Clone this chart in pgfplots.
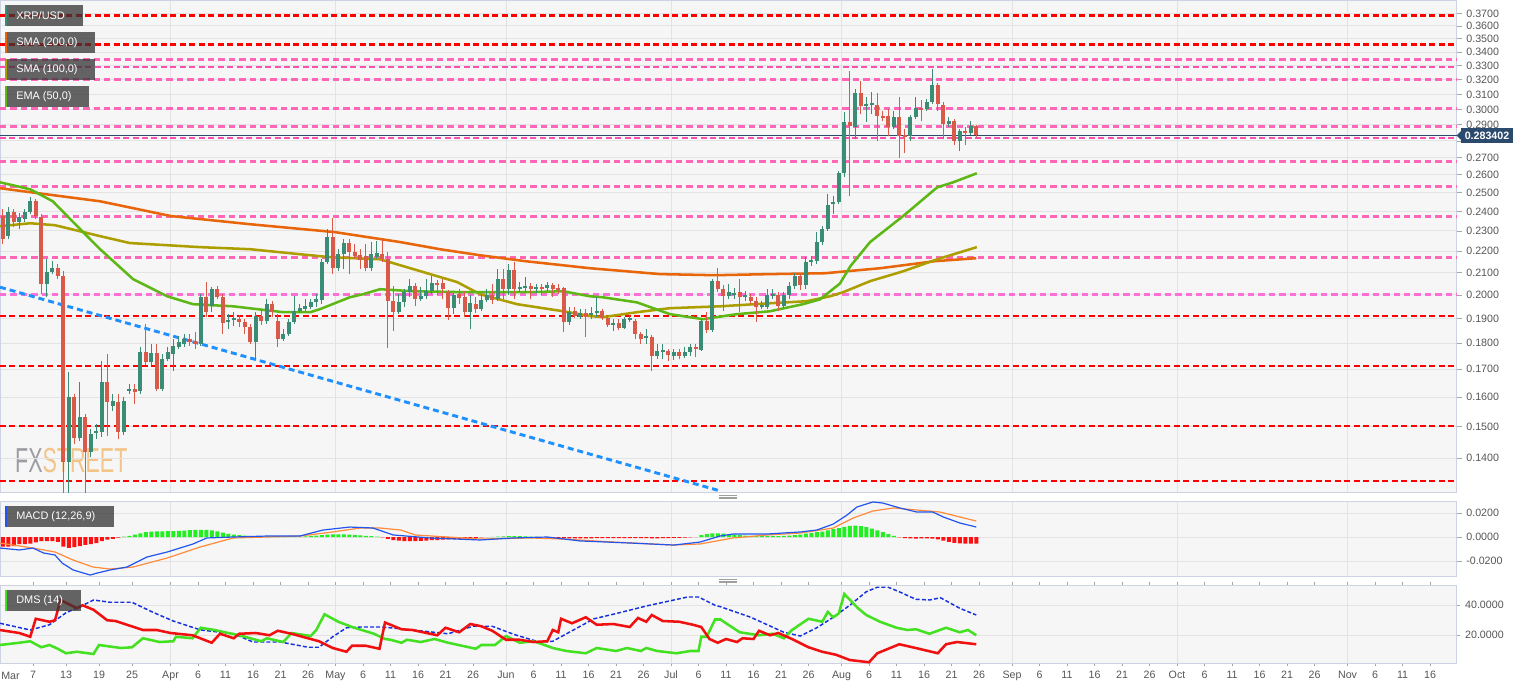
\documentclass[border=0pt]{standalone}
\usepackage{pgfplots}
\usepackage{pgfplotstable}
\pgfplotsset{compat=1.18}
\usepackage{fontspec}
\setmainfont{Liberation Sans}

\definecolor{cgreen}{HTML}{3A8C74}
\definecolor{cred}{HTML}{D95A48}
\definecolor{sma200}{HTML}{E8650A}
\definecolor{sma100}{HTML}{AD9E00}
\definecolor{ema50}{HTML}{5DB815}
\definecolor{lvlred}{HTML}{FF0000}
\definecolor{lvlpink}{HTML}{FF66B8}
\definecolor{lvlpink2}{HTML}{FF4FAE}
\definecolor{lvlpink3}{HTML}{FF6FD8}
\definecolor{trend}{HTML}{1E90FF}
\definecolor{navy}{HTML}{2C4A6E}
\definecolor{panelbg}{HTML}{F6F6F6}
\definecolor{frame}{HTML}{CDD3E2}
\definecolor{gridc}{HTML}{E3E3E3}
\definecolor{ticktxt}{HTML}{555555}
\definecolor{macdblue}{HTML}{2255EE}
\definecolor{macdorange}{HTML}{FF8C3A}
\definecolor{histg}{HTML}{22EE22}
\definecolor{histr}{HTML}{FF1010}
\definecolor{adx}{HTML}{1530E0}
\definecolor{pdi}{HTML}{44E022}
\definecolor{mdi}{HTML}{F01010}
\definecolor{legbg}{HTML}{333333}
\definecolor{fxgray}{HTML}{9C9CA3}
\definecolor{fxorange}{HTML}{F3C487}

% daily candles, day 0 = 1 March
\pgfplotstableread{
d o h l c
0 0.2376 0.2412 0.2235 0.2259
1 0.2274 0.2423 0.2259 0.2396
2 0.2396 0.2412 0.2319 0.2345
3 0.2345 0.2391 0.2309 0.2370
4 0.2360 0.2412 0.2345 0.2396
5 0.2396 0.2476 0.2386 0.2454
6 0.2454 0.2465 0.2360 0.2376
7 0.2370 0.2386 0.2003 0.2048
8 0.2048 0.2162 0.1990 0.2102
9 0.2102 0.2153 0.2093 0.2120
10 0.2120 0.2139 0.2070 0.2084
11 0.2084 0.2106 0.1280 0.1388
12 0.1388 0.1689 0.1285 0.1600
13 0.1600 0.1610 0.1444 0.1462
14 0.1462 0.1653 0.1453 0.1532
15 0.1532 0.1541 0.1280 0.1419
16 0.1419 0.1492 0.1403 0.1476
17 0.1479 0.1508 0.1459 0.1486
18 0.1482 0.1730 0.1466 0.1653
19 0.1653 0.1757 0.1469 0.1583
20 0.1569 0.1610 0.1552 0.1586
21 0.1583 0.1610 0.1459 0.1482
22 0.1482 0.1600 0.1472 0.1586
23 0.1621 0.1646 0.1610 0.1628
24 0.1628 0.1646 0.1576 0.1617
25 0.1621 0.1784 0.1610 0.1765
26 0.1765 0.1877 0.1715 0.1727
27 0.1727 0.1796 0.1715 0.1761
28 0.1761 0.1796 0.1621 0.1628
29 0.1628 0.1757 0.1621 0.1738
30 0.1738 0.1784 0.1730 0.1765
31 0.1757 0.1816 0.1693 0.1788
32 0.1784 0.1828 0.1776 0.1804
33 0.1796 0.1836 0.1784 0.1816
34 0.1816 0.1836 0.1788 0.1804
35 0.1808 0.1844 0.1776 0.1796
36 0.1796 0.2003 0.1788 0.1990
37 0.1990 0.2057 0.1905 0.1926
38 0.1951 0.2034 0.1926 0.2025
39 0.2025 0.2039 0.1981 0.1990
40 0.1990 0.2003 0.1836 0.1881
41 0.1885 0.1918 0.1856 0.1893
42 0.1893 0.1926 0.1869 0.1901
43 0.1897 0.1914 0.1864 0.1885
44 0.1885 0.1897 0.1836 0.1864
45 0.1864 0.1877 0.1796 0.1804
46 0.1804 0.1926 0.1738 0.1910
47 0.1910 0.1939 0.1873 0.1889
48 0.1889 0.1981 0.1877 0.1960
49 0.1960 0.1973 0.1905 0.1926
50 0.1889 0.1918 0.1784 0.1816
51 0.1816 0.1856 0.1808 0.1836
52 0.1836 0.1897 0.1828 0.1885
53 0.1885 0.1994 0.1877 0.1930
54 0.1930 0.1960 0.1922 0.1943
55 0.1939 0.1981 0.1930 0.1951
56 0.1947 0.1981 0.1939 0.1968
57 0.1968 0.2003 0.1947 0.1981
58 0.1977 0.2162 0.1960 0.2148
59 0.2148 0.2309 0.2139 0.2269
60 0.2269 0.2365 0.2093 0.2120
61 0.2120 0.2210 0.2106 0.2186
62 0.2186 0.2259 0.2115 0.2240
63 0.2240 0.2259 0.2093 0.2196
64 0.2196 0.2235 0.2162 0.2176
65 0.2181 0.2210 0.2115 0.2157
66 0.2176 0.2235 0.2106 0.2120
67 0.2120 0.2245 0.2106 0.2186
68 0.2172 0.2249 0.2162 0.2191
69 0.2186 0.2259 0.2148 0.2162
70 0.2162 0.2196 0.1780 0.1973
71 0.1973 0.2039 0.1848 0.1926
72 0.1926 0.2003 0.1918 0.1968
73 0.1968 0.2025 0.1947 0.2012
74 0.2012 0.2070 0.1990 0.2039
75 0.2039 0.2052 0.1951 0.1981
76 0.1981 0.2034 0.1973 0.1994
77 0.1994 0.2070 0.1981 0.2016
78 0.2016 0.2084 0.2003 0.2052
79 0.2052 0.2066 0.1999 0.2043
80 0.2052 0.2070 0.1981 0.2025
81 0.2012 0.2021 0.1893 0.1943
82 0.1943 0.2007 0.1918 0.1999
83 0.2003 0.2025 0.1960 0.1986
84 0.1990 0.2016 0.1905 0.1926
85 0.1926 0.1999 0.1856 0.1964
86 0.1960 0.1990 0.1922 0.1939
87 0.1939 0.1999 0.1930 0.1977
88 0.1977 0.2025 0.1968 0.1999
89 0.1999 0.2048 0.1960 0.1977
90 0.1981 0.2115 0.1973 0.2070
91 0.2070 0.2115 0.1981 0.2025
92 0.2025 0.2139 0.1999 0.2111
93 0.2111 0.2148 0.1981 0.2025
94 0.2025 0.2057 0.2012 0.2034
95 0.2030 0.2079 0.2012 0.2039
96 0.2039 0.2052 0.1981 0.2025
97 0.2025 0.2048 0.2007 0.2034
98 0.2034 0.2048 0.1999 0.2025
99 0.2030 0.2057 0.2016 0.2043
100 0.2043 0.2052 0.1990 0.2025
101 0.2030 0.2048 0.2003 0.2021
102 0.2030 0.2034 0.1844 0.1885
103 0.1885 0.1947 0.1873 0.1926
104 0.1930 0.1947 0.1901 0.1910
105 0.1905 0.1939 0.1897 0.1922
106 0.1922 0.1939 0.1824 0.1905
107 0.1914 0.1947 0.1897 0.1922
108 0.1922 0.1990 0.1905 0.1930
109 0.1930 0.1939 0.1893 0.1901
110 0.1901 0.1914 0.1864 0.1873
111 0.1873 0.1897 0.1848 0.1881
112 0.1881 0.1897 0.1852 0.1860
113 0.1860 0.1905 0.1856 0.1897
114 0.1893 0.1914 0.1885 0.1901
115 0.1889 0.1897 0.1816 0.1836
116 0.1836 0.1844 0.1796 0.1816
117 0.1820 0.1856 0.1796 0.1828
118 0.1824 0.1832 0.1693 0.1749
119 0.1749 0.1796 0.1738 0.1769
120 0.1765 0.1796 0.1738 0.1772
121 0.1769 0.1776 0.1730 0.1753
122 0.1749 0.1776 0.1734 0.1765
123 0.1765 0.1776 0.1738 0.1749
124 0.1749 0.1784 0.1742 0.1765
125 0.1765 0.1796 0.1749 0.1784
126 0.1784 0.1796 0.1745 0.1776
127 0.1772 0.1897 0.1769 0.1889
128 0.1889 0.1926 0.1840 0.1852
129 0.1852 0.2070 0.1844 0.2061
130 0.2061 0.2120 0.2012 0.2025
131 0.2025 0.2043 0.1930 0.1994
132 0.1994 0.2048 0.1981 0.2012
133 0.1999 0.2030 0.1981 0.2007
134 0.2012 0.2070 0.1926 0.1990
135 0.1990 0.2016 0.1973 0.1999
136 0.1990 0.2003 0.1960 0.1973
137 0.1973 0.1990 0.1885 0.1947
138 0.1947 0.1973 0.1939 0.1956
139 0.1947 0.2025 0.1939 0.1999
140 0.1994 0.2025 0.1981 0.2003
141 0.1999 0.2012 0.1930 0.1951
142 0.1951 0.2012 0.1943 0.1999
143 0.1999 0.2057 0.1981 0.2039
144 0.2039 0.2097 0.2025 0.2084
145 0.2084 0.2093 0.2021 0.2043
146 0.2043 0.2172 0.2025 0.2148
147 0.2148 0.2176 0.2129 0.2157
148 0.2153 0.2294 0.2139 0.2245
149 0.2245 0.2324 0.2230 0.2309
150 0.2309 0.2492 0.2299 0.2433
151 0.2438 0.2481 0.2386 0.2449
152 0.2449 0.2621 0.2438 0.2609
153 0.2609 0.2980 0.2586 0.2916
154 0.2916 0.3260 0.2481 0.2891
155 0.2885 0.3134 0.2810 0.3107
156 0.3107 0.3189 0.2967 0.3020
157 0.3020 0.3080 0.2916 0.3034
158 0.3027 0.3114 0.2967 0.3040
159 0.3027 0.3107 0.2798 0.2954
160 0.2954 0.2987 0.2922 0.2941
161 0.2954 0.3000 0.2829 0.2885
162 0.2885 0.2987 0.2872 0.2948
163 0.2948 0.3080 0.2696 0.2829
164 0.2835 0.2872 0.2725 0.2822
165 0.2829 0.2961 0.2798 0.2948
166 0.2948 0.3080 0.2935 0.3007
167 0.3007 0.3060 0.2922 0.2994
168 0.3000 0.3067 0.2987 0.3047
169 0.3047 0.3274 0.3034 0.3162
170 0.3162 0.3175 0.2987 0.3034
171 0.3027 0.3047 0.2810 0.2904
172 0.2904 0.2948 0.2885 0.2922
173 0.2922 0.2935 0.2773 0.2798
174 0.2798 0.2872 0.2737 0.2860
175 0.2860 0.2885 0.2773 0.2847
176 0.2847 0.2922 0.2835 0.2891
177 0.2891 0.2897 0.2822 0.2834
}\ohlc

\pgfplotsset{
  panel/.style={
    scale only axis, width=1092.75pt,
    xmin=-0.5, xmax=264.4,
    axis line style={draw=frame, line width=0.75pt},
    tick style={draw=gray!70, line width=0.6pt},
    tick align=outside, major tick length=3.5pt,
    ytick pos=right, yticklabel pos=right,
    scaled y ticks=false, scaled x ticks=false,
    tick label style={font=\fontsize{8}{9.6}\selectfont, text=ticktxt},
    grid style={draw=gridc, line width=0.75pt},
    xtick={30.5,60.5,91.5,121.5,152.5,183.5,213.5,244.5},
    xmajorgrids, ymajorgrids,
  },
  lvlr/.style={lvlred, line width=1.6pt, dash pattern=on 4.5pt off 2.6pt, forget plot},
  lvlp/.style={lvlpink, line width=2.3pt, dash pattern=on 4.8pt off 3pt, forget plot},
  lvlq/.style={lvlpink2, line width=1.5pt, dash pattern=on 4.5pt off 2.6pt, forget plot},
}
\newcommand\lvl[2]{\addplot[#1] coordinates {(-0.5,#2) (264.4,#2)};}

\begin{document}
\begin{tikzpicture}
\useasboundingbox (0,0) rectangle (1150.5pt,-516.75pt);

\begin{scope}[x=0.75pt,y=-0.75pt]
  \fill[panelbg] (0,0) rectangle (1457,493);
  \fill[panelbg] (0,501) rectangle (1457,576);
  \fill[panelbg] (0,585) rectangle (1457,663);
  \node[anchor=west, inner sep=0, xscale=0.62, font=\fontsize{26}{26}\selectfont]
    at (15,461) {\textcolor{fxgray}{FX}\textcolor{fxorange}{STREET}};
\end{scope}

% ---------- price panel ----------
\begin{axis}[panel, at={(0pt,0pt)}, anchor=north west, height=369pt,
  ymode=log, ymin=0.1300, ymax=0.381,
  xticklabels={}, xtick style={draw=none},
  ytick={0.14,0.15,0.16,0.17,0.18,0.19,0.20,0.21,0.22,0.23,0.24,0.25,0.26,0.27,0.28,0.29,0.30,0.31,0.32,0.33,0.34,0.35,0.36,0.37},
  yticklabels={0.1400,0.1500,0.1600,0.1700,0.1800,0.1900,0.2000,0.2100,0.2200,0.2300,0.2400,0.2500,0.2600,0.2700,,0.2900,0.3000,0.3100,0.3200,0.3300,0.3400,0.3500,0.3600,0.3700},
]
\lvl{lvlr}{0.3684}
\lvl{lvlr}{0.3457}
\lvl{lvlr}{0.1910}
\lvl{lvlr}{0.1711}
\lvl{lvlr}{0.1502}
\lvl{lvlr}{0.1331}
\lvl{lvlp}{0.3346}
\lvl{lvlp}{0.3203}
\lvl{lvlp}{0.3007}
\lvl{lvlp}{0.2891}
\lvl{lvlp}{0.2678}
\lvl{lvlp}{0.2536}
\lvl{lvlp}{0.2375}
\lvl{lvlp}{0.2172}
\lvl{lvlp,lvlpink3}{0.2003}
\lvl{lvlq}{0.3288}
\lvl{lvlq}{0.2816}
\lvl{navy, line width=0.8pt, forget plot}{0.2834}

\addplot[trend, line width=2.2pt, dash pattern=on 4.5pt off 3pt, forget plot]
  coordinates {(-0.5,0.2034) (130,0.1305)};

\addplot[sma200, line width=1.9pt, forget plot] coordinates {
(-0.5,0.2525) (17.7,0.2454) (30.6,0.2376) (45,0.2334) (60.4,0.2294) (72.2,0.2245)
(79.5,0.2210) (86.8,0.2181) (95,0.2153) (106.8,0.2120) (119.5,0.2093) (129.5,0.2088)
(139.5,0.2093) (149.5,0.2097) (159.5,0.2120) (169.5,0.2153) (177,0.2167)};
\addplot[sma100, line width=1.9pt, forget plot] coordinates {
(-0.5,0.2324) (5,0.2339) (9.5,0.2329) (17.7,0.2274) (23.1,0.2240) (35.9,0.2220)
(45,0.2210) (54,0.2186) (59.5,0.2172) (68.6,0.2162) (77.7,0.2093) (82.6,0.2057)
(86.8,0.2003) (93.5,0.1960) (101.9,0.1930) (106.8,0.1910) (109.1,0.1905) (115.3,0.1926)
(121.3,0.1943) (130.4,0.1951) (139.5,0.1964) (146.2,0.1973) (150.4,0.1994) (152.8,0.2012)
(157.7,0.2061) (163.7,0.2106) (169.9,0.2162) (177.1,0.2220)};
\addplot[ema50, line width=1.9pt, forget plot] coordinates {
(-0.5,0.2558) (5,0.2519) (9.1,0.2454) (12.8,0.2345) (17.7,0.2210) (23.7,0.2070)
(29.9,0.1994) (34.6,0.1960) (41.9,0.1951) (51,0.1926) (55.9,0.1926) (57.7,0.1939)
(63.1,0.1990) (65.5,0.2003) (68.6,0.2025) (74.6,0.2016) (83.7,0.2012) (95.9,0.2012)
(101.9,0.2016) (106.8,0.1994) (109.1,0.1990) (115.3,0.1968) (121.3,0.1918) (127.3,0.1897)
(133.5,0.1918) (139.5,0.1930) (145.5,0.1960) (148.6,0.1981) (152.2,0.2050) (154.1,0.2129)
(157.7,0.2245) (163.7,0.2376) (169.9,0.2530) (172.8,0.2558) (177.1,0.2609)};

\pgfplotsforeachungrouped \i in {0,...,177}{%
  \pgfplotstablegetelem{\i}{d}\of\ohlc\let\cd\pgfplotsretval
  \pgfplotstablegetelem{\i}{o}\of\ohlc\let\co\pgfplotsretval
  \pgfplotstablegetelem{\i}{h}\of\ohlc\let\ch\pgfplotsretval
  \pgfplotstablegetelem{\i}{l}\of\ohlc\let\cl\pgfplotsretval
  \pgfplotstablegetelem{\i}{c}\of\ohlc\let\cc\pgfplotsretval
  \ifdim\co pt>\cc pt \def\ccol{cred}\else\def\ccol{cgreen}\fi
  \edef\next{%
    \noexpand\addplot[\ccol, line width=0.8pt, forget plot] coordinates {(\cd,\cl) (\cd,\ch)};
    \noexpand\addplot[\ccol, line width=3.3pt, forget plot] coordinates {(\cd,\co) (\cd,\cc)};}%
  \next
}
\end{axis}

% ---------- MACD panel ----------
\begin{axis}[panel, at={(0pt,-375.75pt)}, anchor=north west, height=56.25pt,
  ymin=-0.0325, ymax=0.03,
  xticklabels={}, xtick style={draw=none},
  ytick={-0.02,0,0.02}, yticklabels={-0.0200,0.0000,0.0200},
]
\addplot[ybar, bar width=3pt, bar shift=0pt, fill=histg, draw=none, forget plot] coordinates {
(22,0.0004) (23,0.001) (24,0.002) (25,0.003) (26,0.004) (27,0.0045) (28,0.0046) (29,0.0047)
(30,0.0048) (31,0.005) (32,0.0052) (33,0.0054) (34,0.0057) (35,0.006) (36,0.006) (37,0.006)
(38,0.0055) (39,0.0046) (40,0.0036) (41,0.0027) (42,0.002) (43,0.0015) (44,0.0011) (45,0.0008)
(46,0.0006) (47,0.0005) (48,0.0004) (49,0.0004) (50,0.0003) (51,0.0003) (52,0.0003) (53,0.0003)
(54,0.0004) (55,0.0006) (56,0.0009) (57,0.0012) (58,0.0016) (59,0.002) (60,0.0022) (61,0.0022)
(62,0.0021) (63,0.0019) (64,0.0016) (65,0.0013) (66,0.001) (67,0.0007) (68,0.0003)
(89,0.0002) (90,0.0004) (91,0.0006) (92,0.0007) (93,0.0008) (94,0.0007) (95,0.0005) (96,0.0003) (97,0.0001)
(127,0.0015) (128,0.0025) (129,0.003) (130,0.003) (131,0.0028) (132,0.0025) (133,0.002) (134,0.0015)
(135,0.0012) (136,0.001) (137,0.0009) (138,0.0008) (139,0.0008) (140,0.0008) (141,0.0008) (142,0.001)
(143,0.0012) (144,0.0015) (145,0.002) (146,0.0028) (147,0.0035) (148,0.004) (149,0.0045) (150,0.0055)
(151,0.0065) (152,0.0075) (153,0.0085) (154,0.0092) (155,0.0095) (156,0.009) (157,0.0082) (158,0.007)
(159,0.0055) (160,0.004) (161,0.0025) (162,0.001)};
\addplot[ybar, bar width=3pt, bar shift=0pt, fill=histr, draw=none, forget plot] coordinates {
(0,-0.008) (1,-0.008) (2,-0.0075) (3,-0.006) (4,-0.006) (5,-0.0055) (6,-0.0045) (7,-0.0035)
(8,-0.0035) (9,-0.0035) (10,-0.004) (11,-0.008) (12,-0.009) (13,-0.0085) (14,-0.0075) (15,-0.0065)
(16,-0.006) (17,-0.005) (18,-0.0035) (19,-0.0022) (20,-0.0015) (21,-0.0006)
(69,-0.0004) (70,-0.0015) (71,-0.0025) (72,-0.003) (73,-0.0034) (74,-0.0035) (75,-0.0034) (76,-0.0032)
(77,-0.003) (78,-0.0027) (79,-0.0025) (80,-0.0022) (81,-0.002) (82,-0.0018) (83,-0.0015) (84,-0.0012)
(85,-0.001) (86,-0.0007) (87,-0.0004) (88,-0.0002)
(98,-0.0002) (99,-0.0005) (100,-0.0007) (101,-0.0009) (102,-0.0011) (103,-0.0012) (104,-0.0012)
(105,-0.0012) (106,-0.0011) (107,-0.0011) (108,-0.001) (109,-0.001) (110,-0.001) (111,-0.001)
(112,-0.001) (113,-0.0009) (114,-0.0009) (115,-0.0009) (116,-0.001) (117,-0.001) (118,-0.0011)
(119,-0.0011) (120,-0.001) (121,-0.0009) (122,-0.0008) (123,-0.0007) (124,-0.0006) (125,-0.0004) (126,-0.0002)
(163,-0.0004) (164,-0.001) (165,-0.0012) (166,-0.0013) (167,-0.0012) (168,-0.0012) (169,-0.0014)
(170,-0.002) (171,-0.003) (172,-0.004) (173,-0.0048) (174,-0.0053) (175,-0.0055) (176,-0.0056) (177,-0.0056)};
\addplot[macdorange, line width=0.9pt, forget plot] coordinates {
(-0.5,-0.005) (5.5,-0.0092) (9.5,-0.0125) (12.8,-0.0192) (16.4,-0.025) (19.5,-0.0267) (23.7,-0.025)
(29.9,-0.0175) (35.9,-0.0083) (41.9,-0.0008) (48,0) (54,0.0008) (60,0.0042) (65,0.0075) (68.6,0.0075)
(72.4,0.0058) (75,0.0017) (86.8,-0.0017) (95.9,-0.0008) (102,-0.0017) (111,-0.0042) (122,-0.0067)
(126.8,-0.0058) (132.8,-0.0008) (139,0.0017) (145,0.0033) (151,0.0075) (154.6,0.0158) (158.2,0.0217)
(162,0.0242) (166.2,0.0225) (170.4,0.0208) (174,0.0167) (177,0.0133)};
\addplot[macdblue, line width=0.9pt, forget plot] coordinates {
(-0.5,-0.0092) (3,-0.0108) (5.5,-0.0092) (7.4,-0.0133) (9.5,-0.015) (10.8,-0.0217) (12.8,-0.0275)
(15.9,-0.0317) (17.2,-0.03) (19.5,-0.0275) (22.6,-0.025) (26.2,-0.0167) (29.9,-0.0125) (34.6,-0.0058)
(37.1,-0.0008) (41.9,0) (48,0.0008) (54,0.0008) (58.2,0.0058) (63.1,0.0083) (67.3,0.0075) (71,0.0017)
(77.7,-0.0008) (86.8,-0.0025) (92.8,-0.0008) (99,0) (105,-0.0033) (114,-0.005) (122,-0.0067)
(126.8,-0.0042) (130.4,0.0008) (132.8,0.0025) (139,0.0025) (145,0.0042) (148,0.0058) (151,0.0108)
(153.5,0.0183) (155.3,0.025) (158.2,0.0292) (160,0.0283) (163.1,0.0242) (166.2,0.0208) (169.1,0.0208)
(171,0.0167) (174,0.0117) (177,0.0083)};
\end{axis}

% ---------- DMS panel ----------
\begin{axis}[panel, at={(0pt,-438.75pt)}, anchor=north west, height=58.5pt,
  ymin=1.5, ymax=53.5,
  ytick={20,40}, yticklabels={20.0000,40.0000},
  xmajorgrids=false, major tick length=2.6pt,
  xtick={5.5,11.5,17.5,23.5,30.5,35.5,40.5,45.5,50.5,55.5,60.5,65.5,70.5,75.5,80.5,85.5,91.5,96.5,101.5,106.5,111.5,116.5,121.5,126.5,131.5,136.5,141.5,146.5,152.5,157.5,162.5,167.5,172.5,177.5,183.5,188.5,193.5,198.5,203.5,208.5,213.5,218.5,223.5,228.5,233.5,238.5,244.5,249.5,254.5,259.5},
  xticklabels={7,13,19,25,Apr,6,11,16,21,26,May,6,11,16,21,26,Jun,6,11,16,21,26,Jul,6,11,16,21,26,Aug,6,11,16,21,26,Sep,6,11,16,21,26,Oct,6,11,16,21,26,Nov,6,11,16},
  extra x ticks={30.5,60.5,91.5,121.5,152.5,183.5,213.5,244.5},
  extra x tick labels={},
  extra x tick style={grid=major, major tick length=0pt},
]
\addplot[adx, line width=1.1pt, dash pattern=on 3pt off 1.6pt, forget plot] coordinates {
(-0.5,28) (5,23.5) (8.5,27) (11.5,35) (14,39) (16.5,43.5) (19.5,42) (23.5,42) (27.5,35) (31,29.5)
(36,23.5) (42,21) (45.5,15.5) (50.5,15.5) (55.5,12) (57.5,12) (60,19) (62.5,25) (65,25.5) (69,25.5)
(74.5,23.5) (81,21) (85.5,26) (89,26) (93,20.5) (97.5,15.5) (100,16) (103.5,23) (107.5,31) (111,34)
(117,39.5) (122,43.5) (124.5,45.5) (126.5,45.5) (129.5,40) (130.5,39) (136,32) (142,22) (145,19.5)
(148,25) (151,32) (154,40) (157,49) (159,52) (161,52) (163,49) (166,44) (168.5,43.5) (170.5,45)
(174,38) (177,33.5)};
\addplot[pdi, line width=1.9pt, forget plot] coordinates {
(-0.5,13.5) (3,15) (5,16) (7,12) (8.5,13.5) (10,11) (11.5,8) (13.5,9) (16.5,7.5) (17.5,13.5)
(21.5,11.5) (23.5,12) (25.5,18) (28.5,15.5) (31,16) (31.5,19) (34.5,18) (36,25) (38.5,23.5) (41,21.5)
(43,20) (47,16) (48,18) (51,15.5) (52.5,21.5) (56,19.5) (57,23.5) (58.5,34) (61,29) (63.5,25.5)
(67.5,21) (69.5,17.5) (70.5,17) (72.5,15) (73.5,17) (76,15.5) (78.5,17.5) (81,15) (83.5,13) (86,11)
(87,13.5) (89.5,13.5) (91.5,19.5) (94,15) (96.5,16) (98.5,13.5) (100,11.5) (102.5,9.5) (106,8)
(108,11.5) (111.5,9.5) (113.5,11.5) (116,9.5) (117,11.5) (119,9.5) (122.5,8) (125,9.5) (126.5,9.5)
(127,19) (128,19) (129.5,30.5) (130.5,30.5) (131.5,28) (134,22) (137.5,20) (140,21) (142,18)
(143.5,23.5) (146.5,31) (149,29) (150,35.5) (151,32) (152,34.5) (153,47.5) (155.5,38) (157,33.5)
(159.5,29) (162.5,25) (164.5,23.5) (166,24) (168.5,21) (171.5,25) (174,22) (175.5,23.5) (177,20)};
\addplot[mdi, line width=1.9pt, forget plot] coordinates {
(-0.5,23.5) (3,21.5) (5,19) (6,31) (8.5,29) (9.5,30) (10.5,43.5) (13.5,38) (14.5,40) (16.5,37)
(19,30) (20.5,29.5) (25.5,23.5) (28,23.5) (30.5,21.5) (34.5,20) (38,15) (39.5,21) (42,18) (43,21)
(46,21.5) (48.5,20) (50,23) (52.5,21) (55.5,18) (57.5,16) (60,11.5) (62.5,9) (63.5,13) (66,13)
(68.5,11) (69.5,28.5) (72.5,24) (74.5,23.5) (79,20) (80.5,25) (83,22) (85,27.5) (87,26) (89,23)
(91.5,17) (94,17) (96.5,15.5) (99,16) (100,23.5) (101,22) (101.5,31) (103.5,28) (106,32) (108,27)
(111,27.5) (114,25.5) (115.5,31.5) (117,29) (118,33.5) (120,29.5) (123,29) (125.5,27) (127,25.5)
(128.5,17.5) (130,15) (131.5,17.5) (133.5,15.5) (134.5,18) (136.5,17.5) (137.5,23) (139.5,20)
(141,21.5) (143.5,17.5) (146.5,12) (149,9) (151.5,7) (154,3.5) (157.5,2) (159,8) (161,11) (163,14)
(166,11.5) (170,8) (171.5,14) (173.5,15.5) (177,14)};
\end{axis}

% ---------- overlays ----------
\begin{scope}[x=0.75pt,y=-0.75pt]
  \newcommand\legbox[6]{%
    \fill[legbg, fill opacity=0.75] (5,#1) rectangle (#2,#3);
    \fill[#4] (5,#1) rectangle (7,#3);
    \node[anchor=west, inner sep=0, text=white, font=\fontsize{8.2}{9.8}\selectfont] at (16,#5) {#6};}
  \legbox{5}{83}{26}{cgreen}{15.5}{XRP/USD}
  \legbox{32}{95}{53}{sma200}{42.5}{SMA (200,0)}
  \legbox{59}{95}{80}{sma100}{69.5}{SMA (100,0)}
  \legbox{86}{89}{107}{ema50}{96.5}{EMA (50,0)}
  \legbox{506}{114}{527}{macdblue}{516.5}{MACD (12,26,9)}
  \legbox{590}{81}{611}{pdi}{600.5}{DMS (14)}
  % last price tag
  \fill[navy] (1461,128) rectangle (1513,143);
  \fill[navy] (1456.5,135.5) -- (1461,131) -- (1461,140) -- cycle;
  \node[inner sep=0, text=white, font=\bfseries\fontsize{8}{9.6}\selectfont] at (1487,135.8) {0.283402};
  % panel handles
  \foreach \yy in {495.5,497,498.5,579.5,581,582.5}
    \draw[gray!75, line width=0.45pt] (719,\yy) -- (737,\yy);
  \node[anchor=west, inner sep=0, text=ticktxt, font=\fontsize{8}{9.6}\selectfont] at (1,676) {Mar};
\end{scope}
\end{tikzpicture}
\end{document}
